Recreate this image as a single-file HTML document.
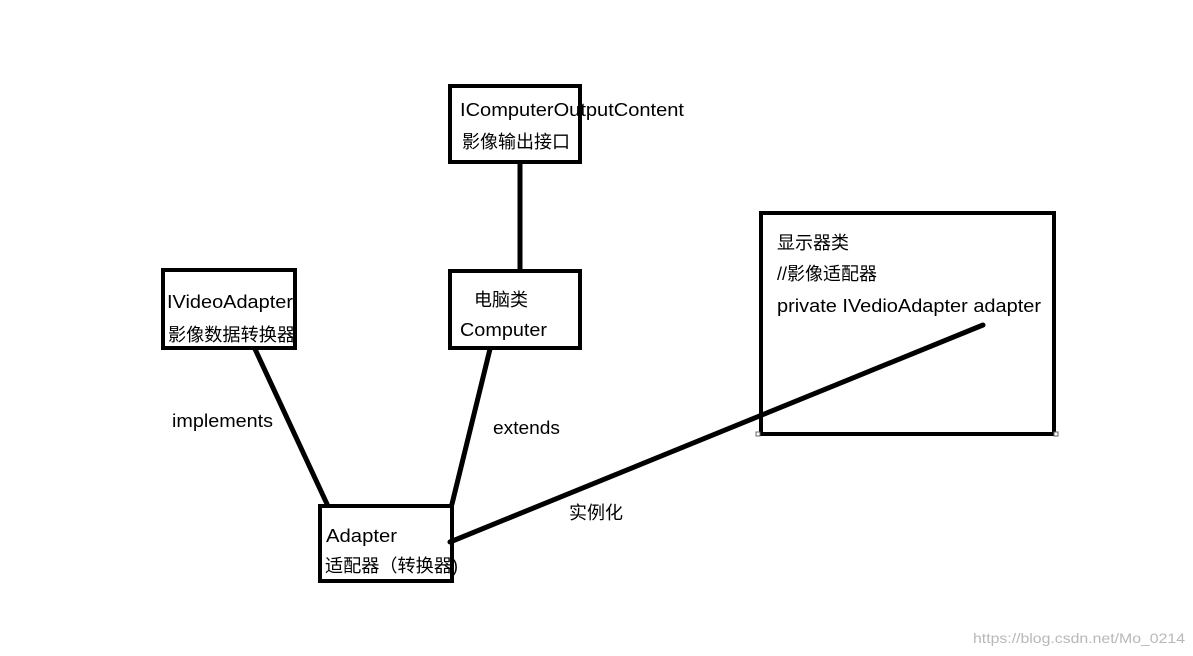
<!DOCTYPE html>
<html><head><meta charset="utf-8"><style>
html,body{margin:0;padding:0;background:#fff;}
svg{display:block;}
text{font-family:"Liberation Sans","Noto Sans CJK SC",sans-serif;font-size:18px;fill:#000;}
</style></head><body>
<svg width="1193" height="656" viewBox="0 0 1193 656" xmlns="http://www.w3.org/2000/svg">
<rect width="1193" height="656" fill="#fff"/>
<g fill="none" stroke="#000" stroke-width="4">
<rect x="450" y="86" width="130" height="76"/>
<rect x="163" y="270" width="132" height="78"/>
<rect x="450" y="271" width="130" height="77"/>
<rect x="761" y="213" width="293" height="221"/>
<rect x="320" y="506" width="132" height="75"/>
</g>
<g stroke="#000" stroke-width="5" stroke-linecap="round">
<line x1="520" y1="163" x2="520" y2="270"/>
<line x1="255" y1="349" x2="327" y2="504"/>
<line x1="490" y1="349" x2="452" y2="504"/>
<line x1="450" y1="542" x2="983" y2="325"/>
</g>
<rect x="756" y="432" width="4" height="4" fill="#fff" stroke="#666" stroke-width="1"/>
<rect x="1054" y="432" width="4" height="4" fill="#fff" stroke="#666" stroke-width="1"/>
<text x="460" y="116" textLength="224" lengthAdjust="spacingAndGlyphs">IComputerOutputContent</text>
<text x="462" y="148">影像输出接口</text>
<text x="167" y="308" textLength="126" lengthAdjust="spacingAndGlyphs">IVideoAdapter</text>
<text x="168" y="341" textLength="127" lengthAdjust="spacingAndGlyphs">影像数据转换器</text>
<text x="474" y="306">电脑类</text>
<text x="460" y="336" textLength="87" lengthAdjust="spacingAndGlyphs">Computer</text>
<text x="777" y="249">显示器类</text>
<text x="777" y="280">//影像适配器</text>
<text x="777" y="312" textLength="264" lengthAdjust="spacingAndGlyphs">private IVedioAdapter adapter</text>
<text x="172" y="427" textLength="101" lengthAdjust="spacingAndGlyphs">implements</text>
<text x="493" y="434" textLength="67" lengthAdjust="spacingAndGlyphs">extends</text>
<text x="569" y="519">实例化</text>
<text x="326" y="542" textLength="71" lengthAdjust="spacingAndGlyphs">Adapter</text>
<text x="325" y="572" textLength="133" lengthAdjust="spacingAndGlyphs">适配器（转换器)</text>
<text x="973" y="643" textLength="212" lengthAdjust="spacingAndGlyphs" style="font-size:14px;fill:#b8b8b8">https://blog.csdn.net/Mo_0214</text>
</svg>
</body></html>
